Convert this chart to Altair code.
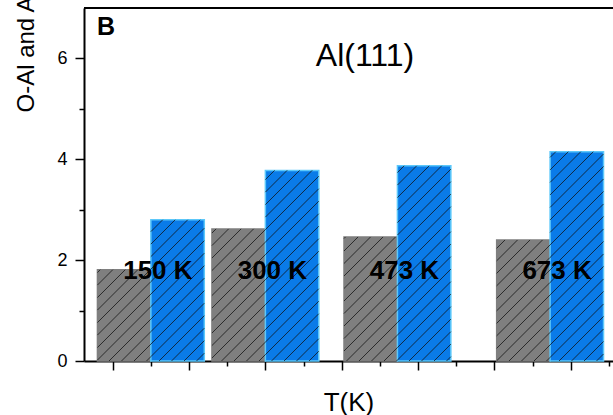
import altair as alt
import numpy as np
import pandas as pd

# Temperatures (K) and the two coordination-number series per temperature
temps = [150, 300, 473, 673]
temp_labels = ["150 K", "300 K", "473 K", "673 K"]
o_al_cn = [1.81, 2.62, 2.46, 2.40]
al_al_cn = [2.80, 3.78, 3.87, 4.15]

series_names = ["O-Al", "Al-Al"]
series_fill = ["#7f7f7f", "#0a7be8"]
series_stroke = ["#7f7f7f", "#5cc8fa"]

FONT = "Liberation Sans"
X_DOMAIN = [62.4, 755.4]
Y_DOMAIN = [0, 7]
WIDTH, HEIGHT = 529, 353
BAR_W = 70          # bar width in kelvin
HATCH_STEP = 12.5   # hatch spacing in pixels

# Bars: O-Al sits left of each temperature, Al-Al to the right
rows = []
for t, a, b in zip(temps, o_al_cn, al_al_cn):
    rows.append({"T": t, "series": "O-Al", "x0": t - BAR_W, "x1": t, "value": a})
    rows.append({"T": t, "series": "Al-Al", "x0": t, "x1": t + BAR_W, "value": b})
bars = pd.DataFrame(rows)

# Diagonal hatch segments clipped to each bar, built in pixel space then
# mapped back to data units so they follow the chart scales
kx = WIDTH / (X_DOMAIN[1] - X_DOMAIN[0])
ky = HEIGHT / (Y_DOMAIN[1] - Y_DOMAIN[0])
hatch = []
for r in rows:
    u0 = (r["x0"] - X_DOMAIN[0]) * kx
    u1 = (r["x1"] - X_DOMAIN[0]) * kx
    h = r["value"] * ky
    c_lo = np.floor((u0 - h) / HATCH_STEP) * HATCH_STEP
    for c in np.arange(c_lo, u1 + HATCH_STEP, HATCH_STEP):
        ua = max(u0, c)
        ub = min(u1, h + c)
        if ub - ua > 0.5:
            hatch.append({
                "xa": X_DOMAIN[0] + ua / kx, "ya": (ua - c) / ky,
                "xb": X_DOMAIN[0] + ub / kx, "yb": (ub - c) / ky,
            })
hatch = pd.DataFrame(hatch)

labels_df = pd.DataFrame({"T": temps, "label": temp_labels})

x_scale = alt.Scale(domain=X_DOMAIN, nice=False, zero=False)
y_scale = alt.Scale(domain=Y_DOMAIN, nice=False, zero=False)

x_axis = alt.Axis(
    values=list(range(100, 751, 50)),
    labels=False,
    grid=False,
    tickSize={"condition": {"test": "datum.value % 100 === 0", "value": 9}, "value": 5},
    tickWidth=1.5,
    tickColor="black",
    domainColor="black",
    domainWidth=2,
    title="T(K)",
    titleFont=FONT,
    titleFontSize=26,
    titleFontWeight="normal",
    titleColor="black",
    titleBaseline="alphabetic",
    titleY=49,
)
y_axis = alt.Axis(
    values=[0, 1, 2, 3, 4, 5, 6],
    labelExpr="datum.value % 2 === 0 ? datum.label : ''",
    grid=False,
    tickSize={"condition": {"test": "datum.value % 2 === 1", "value": 5}, "value": 9},
    tickWidth=1.5,
    tickColor="black",
    domainColor="black",
    domainWidth=2,
    labelFont=FONT,
    labelFontSize=18,
    labelColor="black",
    labelPadding=8,
    title="O-Al and Al-Al CN",
    titleFont=FONT,
    titleFontSize=24,
    titleFontWeight="normal",
    titleColor="black",
    titleAngle=270,
    titleAlign="left",
    titleBaseline="alphabetic",
    titleX=-51,
    titleY=104,
)

bar_layer = alt.Chart(bars).mark_rect(strokeWidth=1.5).encode(
    x=alt.X("x0:Q", scale=x_scale, axis=x_axis),
    x2="x1:Q",
    y=alt.Y("value:Q", scale=y_scale, axis=y_axis),
    y2=alt.datum(0),
    fill=alt.Fill("series:N", scale=alt.Scale(domain=series_names, range=series_fill), legend=None),
    stroke=alt.Stroke("series:N", scale=alt.Scale(domain=series_names, range=series_stroke), legend=None),
)

hatch_layer = alt.Chart(hatch).mark_rule(color="#111111", strokeWidth=0.9, opacity=0.85).encode(
    x="xa:Q", y="ya:Q", x2="xb:Q", y2="yb:Q"
)

top_frame = alt.Chart(pd.DataFrame({"v": [Y_DOMAIN[1]]})).mark_rule(
    color="black", strokeWidth=2
).encode(y="v:Q")

temp_text = alt.Chart(labels_df).mark_text(
    font=FONT, fontSize=26, fontWeight="bold", color="black",
    baseline="alphabetic", dx=7,
).encode(x="T:Q", y=alt.datum(1.63), text="label:N")

facet_title = alt.Chart(pd.DataFrame({"t": ["Al(111)"]})).mark_text(
    font=FONT, fontSize=32, color="black", baseline="alphabetic"
).encode(x=alt.value(281), y=alt.value(58), text="t:N")

panel_letter = alt.Chart(pd.DataFrame({"t": ["B"]})).mark_text(
    font=FONT, fontSize=25, fontWeight="bold", color="black",
    baseline="alphabetic", align="left",
).encode(x=alt.value(13), y=alt.value(27), text="t:N")

chart = alt.layer(
    bar_layer, hatch_layer, top_frame, temp_text, facet_title, panel_letter
).properties(
    width=WIDTH,
    height=HEIGHT,
    autosize=alt.AutoSizeParams(type="none"),
    padding={"left": 84, "top": 8, "right": 0, "bottom": 54},
    background="white",
).configure_view(stroke=None)

chart.save("out.html", embed_options={"renderer": "svg", "actions": False})
